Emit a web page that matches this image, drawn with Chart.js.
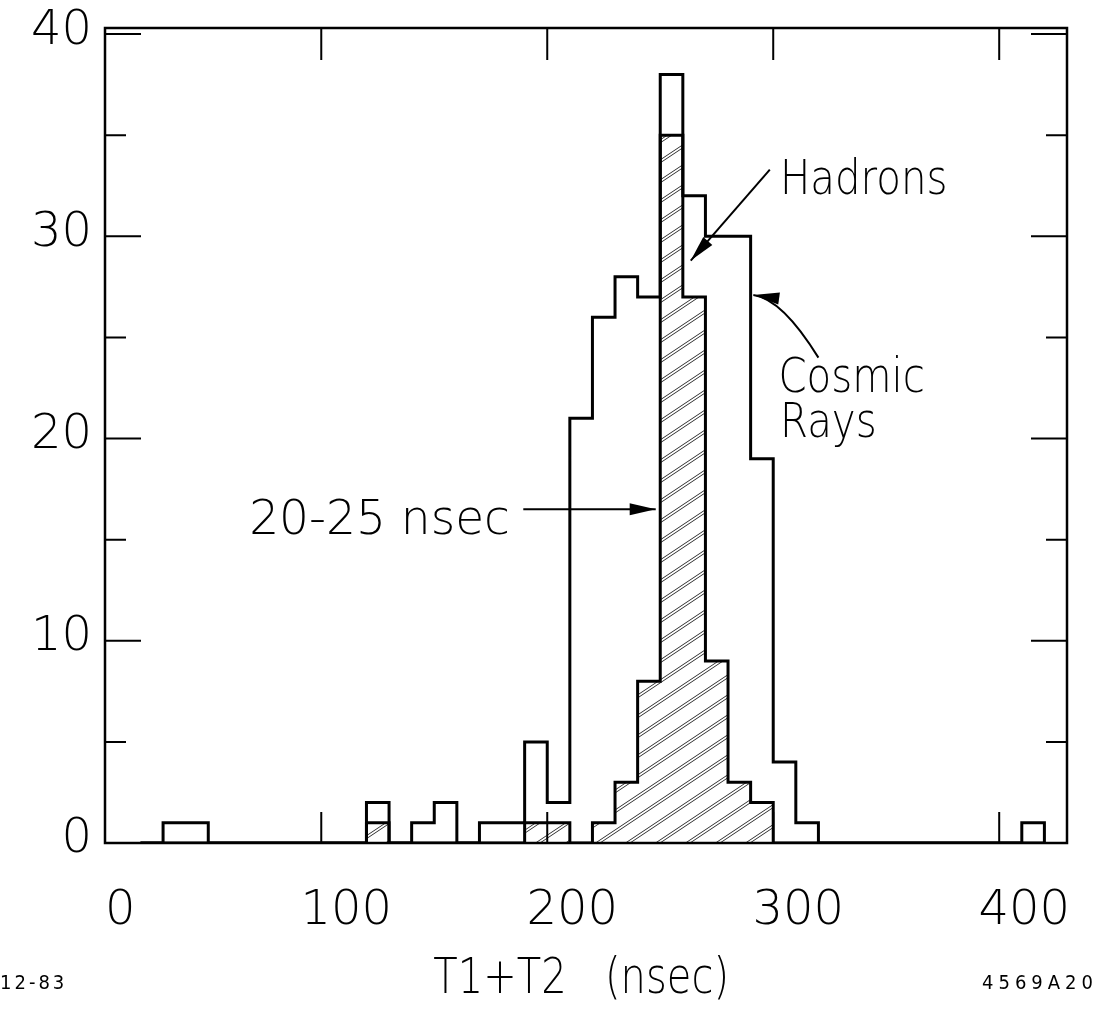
<!DOCTYPE html>
<html><head><meta charset="utf-8">
<script src="https://cdn.jsdelivr.net/npm/chart.js@4.4.1/dist/chart.umd.min.js"></script>
<style>html,body{margin:0;padding:0;background:#fff}#wrap{width:1104px;height:1012px}</style>
</head><body><div id="wrap"><canvas id="c" width="1104" height="1012"></canvas></div>
<script>
// ---- data (10 ns bins, left edges) ----
const binStarts = [30,40,50,60,70,80,90,100,110,120,130,140,150,160,170,180,190,200,210,220,230,240,250,260,270,280,290,300,310,320,330,340,350,360,370,380,390,400,410];
const binWidth = 10;
const allCounts = [1,1,0,0,0,0,0,0,0,2,0,1,2,0,1,1,5,2,21,26,28,27,38,32,30,30,19,4,1,0,0,0,0,0,0,0,0,0,1];
const hatchCounts = [0,0,0,0,0,0,0,0,0,1,0,0,0,0,0,0,1,1,0,1,3,8,35,27,9,3,2,0,0,0,0,0,0,0,0,0,0,0,0];
const xTickValues = [0,100,200,300,400];
const xTickLabels = ['0','100','200','300','400'];
const yMajorTicks = [0,10,20,30,40];
const yMajorLabels = ['0','10','20','30','40'];
const yMinorTicks = [5,15,25,35];
const xRange = [4.3,430];
const yRange = [0,40.3];
const xTitleLeft = 'T1+T2';
const xTitleRight = '(nsec)';
const leftNote = '12-83';
const rightNote = '4569A20';
// annotations in data units
const labelHadrons = {text:'Hadrons', x:303, y:32.1};
const arrowHadrons = {from:[298.5,33.3], to:[263.5,28.8]};
const labelCosmic = [{text:'Cosmic', x:302.3, y:22.3},{text:'Rays', x:303, y:20.1}];
const arrowCosmic = {from:[320,24.0], ctrl:[304,26.9], to:[291.2,27.1]};
const label2025 = {text:'20-25 nsec', x:183.5, y:15.3};
const arrow2025 = {from:[189.4,16.5], to:[248,16.5]};

function stepPoints(starts, vals){
  const pts = [{x: starts[0]-binWidth, y:0}];
  starts.forEach((s,i)=>pts.push({x:s, y:vals[i]}));
  pts.push({x: starts[starts.length-1]+binWidth, y:0});
  return pts;
}

function makeHatch(){
  const W=30, H=20;
  const c=document.createElement('canvas'); c.width=W; c.height=H;
  const g=c.getContext('2d');
  g.strokeStyle='#333'; g.lineWidth=1;
  for (const off of [0,3]){
    for (const dx of [-W,0,W]) for (const dy of [-H,0,H]){
      g.beginPath(); g.moveTo(dx, H+dy+off); g.lineTo(W+dx, dy+off); g.stroke();
    }
  }
  return document.getElementById('c').getContext('2d').createPattern(c,'repeat');
}

const FONT = '"DejaVu Sans", sans-serif';

function narrowText(ctx, txt, x, y, sx, align){
  ctx.save();
  ctx.translate(x, y); ctx.scale(sx, 1);
  ctx.textAlign = align;
  ctx.fillText(txt, 0, 0);
  ctx.restore();
}

const decor = {
  id:'decor',
  afterDatasetsDraw(chart){
    const ctx=chart.ctx, a=chart.chartArea, xs=chart.scales.x, ys=chart.scales.y;
    const px=v=>xs.getPixelForValue(v), py=v=>ys.getPixelForValue(v);
    ctx.save();
    ctx.strokeStyle='#000'; ctx.fillStyle='#000'; ctx.lineCap='butt';
    ctx.lineWidth=2.5;
    ctx.strokeRect(a.left,a.top,a.right-a.left,a.bottom-a.top);
    ctx.lineWidth=2;
    ctx.beginPath();
    xTickValues.forEach(v=>{ const x=px(v); if(x<=a.left+2||x>=a.right-2) return;
      ctx.moveTo(x,a.bottom); ctx.lineTo(x,a.bottom-31);
      ctx.moveTo(x,a.top); ctx.lineTo(x,a.top+32); });
    const yt=(v,len)=>{ const y=py(v); if(y>=a.bottom-2||y<=a.top+2) return;
      ctx.moveTo(a.left,y); ctx.lineTo(a.left+len,y);
      ctx.moveTo(a.right,y); ctx.lineTo(a.right-len,y); };
    yMajorTicks.forEach(v=>yt(v,36)); yMinorTicks.forEach(v=>yt(v,21));
    ctx.stroke();
    // tick labels
    ctx.font='200 48px '+FONT;
    ctx.textBaseline='middle';
    xTickValues.forEach((v,i)=>narrowText(ctx, xTickLabels[i], px(v)+25, 912, 1.0, 'center'));
    yMajorTicks.forEach((v,i)=>narrowText(ctx, yMajorLabels[i], 92, py(v)-3, 1.0, 'right'));
    // axis title and notes
    ctx.font='200 50px '+FONT;
    narrowText(ctx, xTitleLeft, 500, 980, 0.8, 'center');
    narrowText(ctx, xTitleRight, 667, 980, 0.8, 'center');
    ctx.font='20px "DejaVu Sans Condensed", "DejaVu Sans", sans-serif';
    ctx.letterSpacing='3px';
    ctx.textAlign='left'; ctx.fillText(leftNote, 0, 984);
    ctx.letterSpacing='5px';
    ctx.textAlign='right'; ctx.fillText(rightNote, 1098, 984);
    ctx.letterSpacing='0px';
    // annotations
    ctx.textBaseline='alphabetic';
    ctx.font='200 48px '+FONT;
    narrowText(ctx, labelHadrons.text, px(labelHadrons.x), py(labelHadrons.y), 0.84, 'left');
    labelCosmic.forEach(l=>narrowText(ctx, l.text, px(l.x), py(l.y), 0.84, 'left'));
    narrowText(ctx, label2025.text, px(label2025.x), py(label2025.y), 0.98, 'right');
    const head=(x0,y0,x1,y1)=>{ const ang=Math.atan2(y1-y0,x1-x0), L=26, w=6;
      ctx.beginPath(); ctx.moveTo(x1,y1);
      ctx.lineTo(x1-L*Math.cos(ang)+w*Math.sin(ang), y1-L*Math.sin(ang)-w*Math.cos(ang));
      ctx.lineTo(x1-L*Math.cos(ang)-w*Math.sin(ang), y1-L*Math.sin(ang)+w*Math.cos(ang));
      ctx.closePath(); ctx.fill(); };
    ctx.lineWidth=2;
    let f=[px(arrowHadrons.from[0]),py(arrowHadrons.from[1])], t=[px(arrowHadrons.to[0]),py(arrowHadrons.to[1])];
    ctx.beginPath(); ctx.moveTo(...f); ctx.lineTo(...t); ctx.stroke(); head(...f,...t);
    f=[px(arrow2025.from[0]),py(arrow2025.from[1])]; t=[px(arrow2025.to[0]),py(arrow2025.to[1])];
    ctx.beginPath(); ctx.moveTo(...f); ctx.lineTo(...t); ctx.stroke(); head(...f,...t);
    f=[px(arrowCosmic.from[0]),py(arrowCosmic.from[1])]; const c=[px(arrowCosmic.ctrl[0]),py(arrowCosmic.ctrl[1])]; t=[px(arrowCosmic.to[0]),py(arrowCosmic.to[1])];
    ctx.beginPath(); ctx.moveTo(...f); ctx.quadraticCurveTo(...c,...t); ctx.stroke(); head(...c,...t);
    ctx.restore();
  }
};

new Chart(document.getElementById('c'), {
  type:'line',
  data:{ datasets:[
    { label:'All', data: stepPoints(binStarts, allCounts), stepped:'before', borderColor:'#000', borderWidth:3,
      pointRadius:0, fill:false, order:1 },
    { label:'20-25 nsec', data: stepPoints(binStarts, hatchCounts), stepped:'before', borderColor:'#000', borderWidth:3,
      backgroundColor: makeHatch(), pointRadius:0, fill:'origin', order:2 }
  ]},
  options:{
    responsive:false, animation:false, devicePixelRatio:1,
    layout:{ padding:{left:105, top:28, right:37, bottom:169} },
    plugins:{ legend:{display:false}, tooltip:{enabled:false} },
    scales:{
      x:{ type:'linear', min:xRange[0], max:xRange[1], display:false },
      y:{ type:'linear', min:yRange[0], max:yRange[1], display:false }
    }
  },
  plugins:[decor]
});
</script></body></html>
